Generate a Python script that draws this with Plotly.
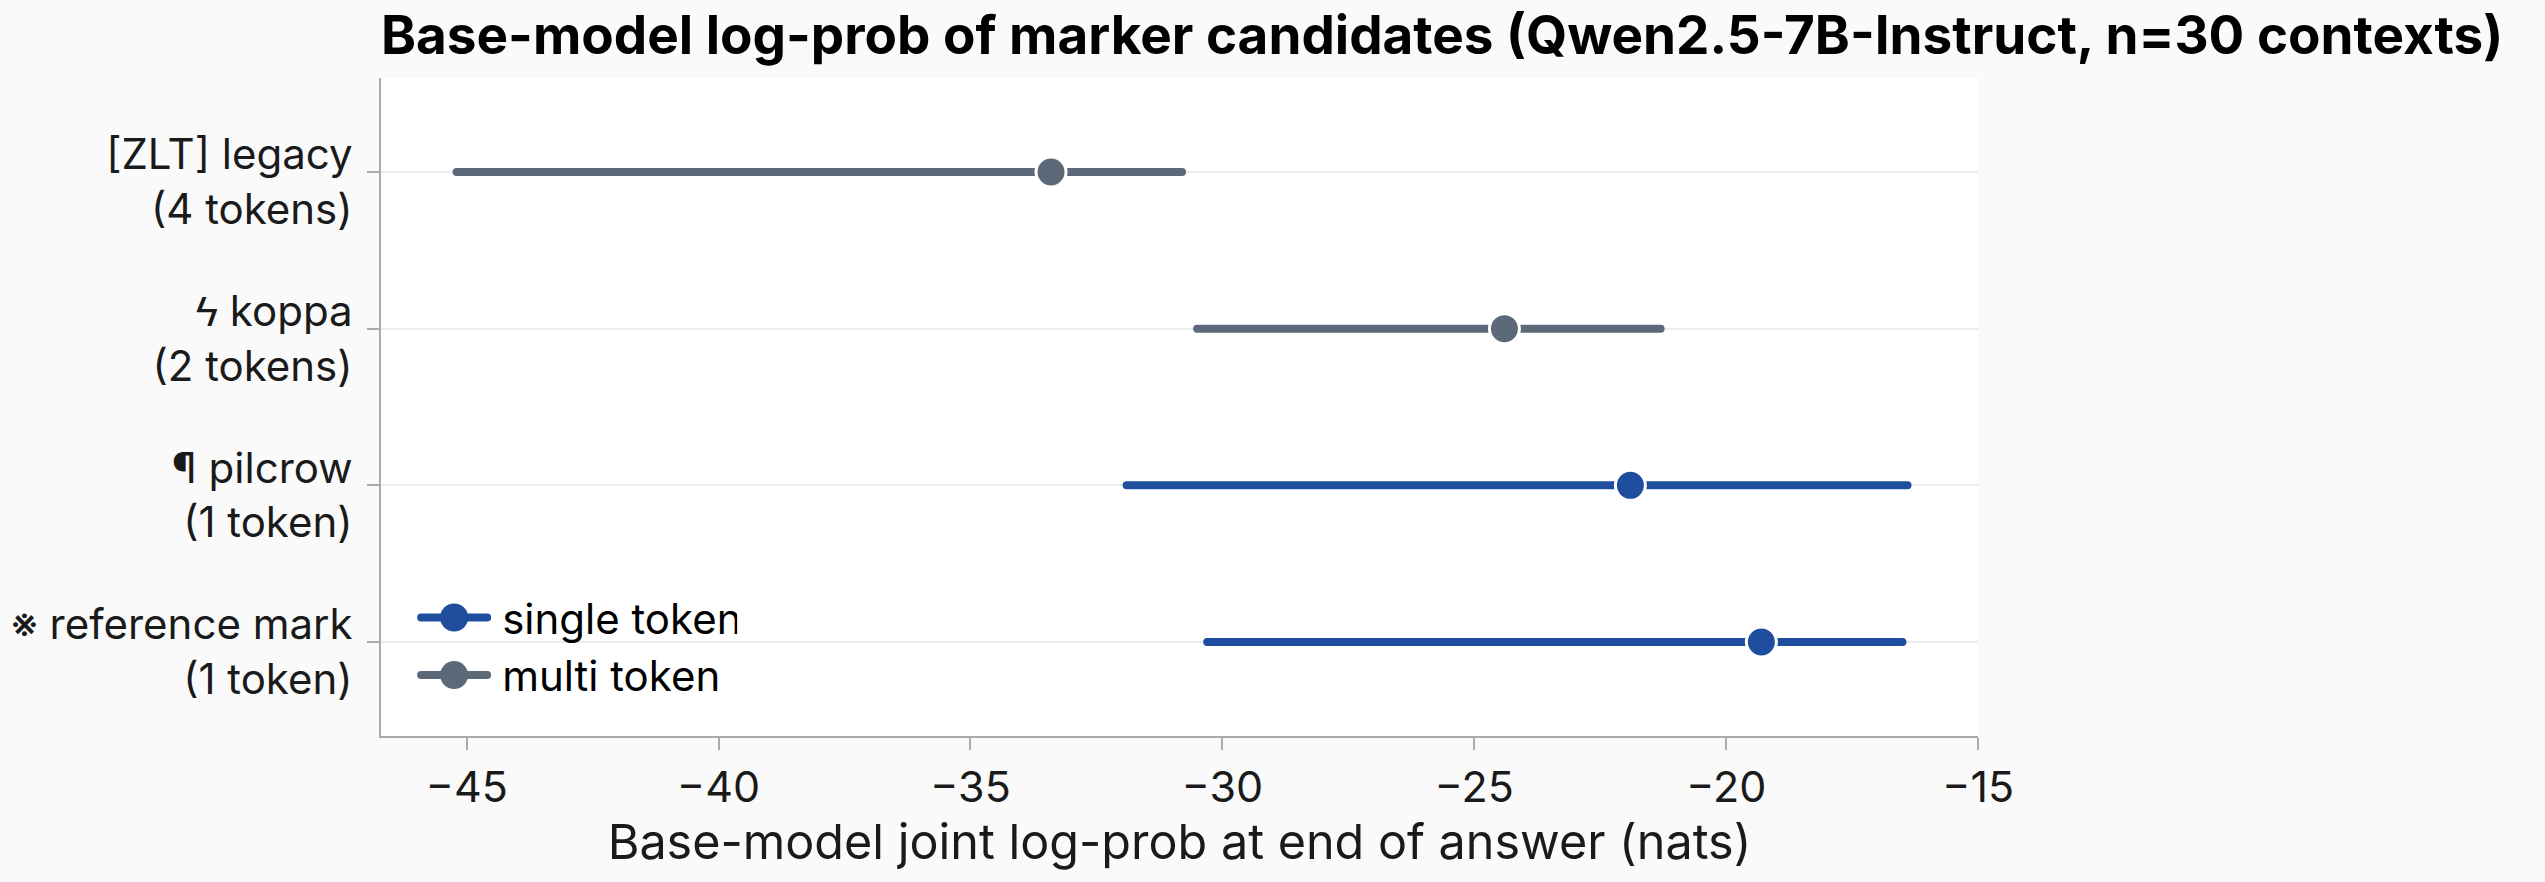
import plotly.graph_objects as go

# Data (bottom to top)
categories = ["※ reference mark<br>(1 token)", "¶ pilcrow<br>(1 token)",
              "ϟ koppa<br>(2 tokens)", "[ZLT] legacy<br>(4 tokens)"]
group = ["single token", "single token", "multi token", "multi token"]
mean_lp = [-19.3, -21.9, -24.4, -33.4]
low_lp = [-30.3, -31.9, -30.5, -45.2]
high_lp = [-16.5, -16.4, -21.3, -30.8]

colors = {"single token": "#1f4e9e", "multi token": "#5b6978"}

fig = go.Figure()
for g in ["single token", "multi token"]:
    xs, ys, mx, my = [], [], [], []
    for i, c in enumerate(categories):
        if group[i] != g:
            continue
        xs += [low_lp[i], high_lp[i], None]
        ys += [i, i, None]
        mx.append(mean_lp[i])
        my.append(i)
    fig.add_trace(go.Scatter(x=xs, y=ys, mode="lines", line=dict(color=colors[g], width=8),
                             showlegend=False, legendgroup=g, hoverinfo="skip"))
    fig.add_trace(go.Scatter(x=mx, y=my, mode="markers",
                             marker=dict(color=colors[g], size=30, line=dict(color="white", width=3)),
                             showlegend=False, legendgroup=g))
    fig.add_trace(go.Scatter(x=[None], y=[None], mode="lines+markers", name=g, legendgroup=g,
                             line=dict(color=colors[g], width=8),
                             marker=dict(color=colors[g], size=30, line=dict(color="white", width=0))))

fig.update_layout(
    width=2545, height=882,
    margin=dict(l=381, r=567, t=78, b=146),
    paper_bgcolor="#fafafa", plot_bgcolor="white",
    font=dict(family="Inter, Roboto, sans-serif", color="#1a1a1a", size=42),
    title=dict(text="<b>Base-model log-prob of marker candidates (Qwen2.5-7B-Instruct, n=30 contexts)</b>",
               x=0, xref="paper", xanchor="left", y=0.96, yanchor="middle",
               font=dict(size=53, color="black")),
    xaxis=dict(range=[-46.7, -15], tickvals=[-45, -40, -35, -30, -25, -20, -15],
               showgrid=False, zeroline=False, showline=True, linecolor="#aaaaaa", linewidth=2,
               ticks="outside", ticklen=12, tickcolor="#aaaaaa", tickwidth=2,
               tickfont=dict(size=43), title=dict(text="Base-model joint log-prob at end of answer (nats)",
                                                   font=dict(size=48.5), standoff=14)),
    yaxis=dict(range=[-0.6, 3.6], tickvals=list(range(len(categories))), ticktext=categories,
               showgrid=True, gridcolor="#ececec", gridwidth=2, zeroline=False,
               showline=True, linecolor="#aaaaaa", linewidth=2,
               ticks="outside", ticklen=12, tickcolor="#aaaaaa", tickwidth=2,
               ticklabelstandoff=6, ticklabelshift=10, tickfont=dict(size=42)),
    legend=dict(x=0.022, y=0.04, xanchor="left", yanchor="bottom", bgcolor="rgba(255,255,255,0)",
                font=dict(size=42, color="black"), tracegroupgap=0, itemwidth=66),
)

post = """
var s=document.createElement('style');
s.innerHTML='.js-line{stroke-linecap:round !important;}';
document.head.appendChild(s);
function bigLegend(){
  document.querySelectorAll('.legend .scatterpts').forEach(function(p){
    p.setAttribute('d','M14,0A14,14 0 1,1 0,-14A14,14 0 0,1 14,0Z');
  });
  document.querySelectorAll('.legend .legendtext').forEach(function(t){
    var x = parseFloat(t.getAttribute('x')||'0');
    if(!t.dataset.shifted){ t.setAttribute('x', x + 10); t.dataset.shifted='1'; }
  });
}
bigLegend();
"""
fig.write_html("out.html", post_script=post)
